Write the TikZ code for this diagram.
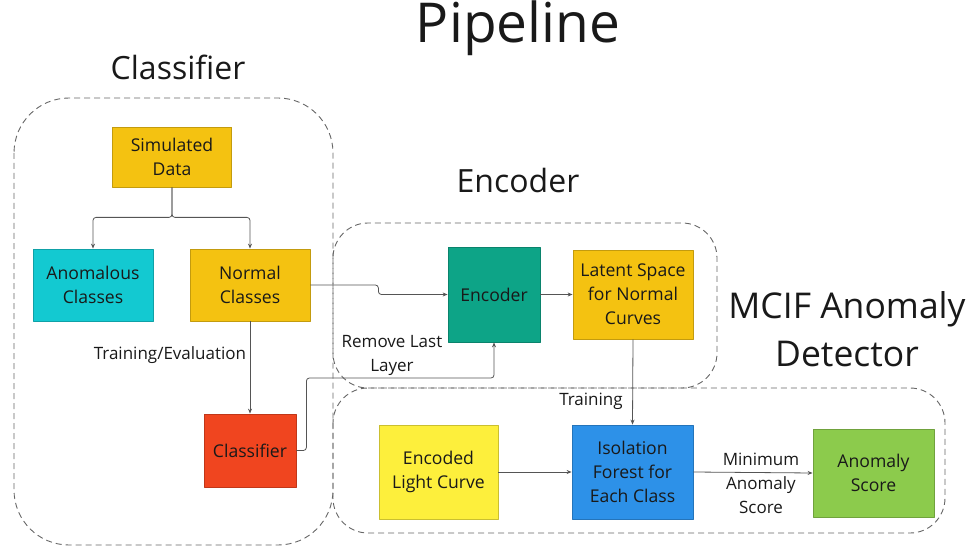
\documentclass[tikz,border=0pt]{standalone}
\usepackage{fontspec}
\setmainfont{Open Sans}
\usetikzlibrary{arrows.meta}
\definecolor{gold}{HTML}{F4C211}
\definecolor{aqua}{HTML}{13C9D1}
\definecolor{tomato}{HTML}{F0451F}
\definecolor{jade}{HTML}{0DA487}
\definecolor{lemon}{HTML}{FDEF3C}
\definecolor{sky}{HTML}{2D91E8}
\definecolor{lime}{HTML}{8CCB4C}
\definecolor{wire}{HTML}{555555}
\begin{document}
\begin{tikzpicture}[x=1pt,y=-1pt,>={Stealth[length=5pt,width=4pt]},line join=round]
	\tikzset{blk/.style={draw=#1!80!black, fill=#1, line width=0.8pt, inner sep=0pt, align=center, text=black!90, font=\fontsize{17.6}{24}\selectfont},
		conn/.style={->, draw=wire, line width=0.8pt, rounded corners=3pt},
		zone/.style={draw=black!60, line width=0.9pt, dash pattern=on 6pt off 4pt},
		lbl/.style={align=center, text=black!90, font=\fontsize{17}{24}\selectfont},
		ttl/.style={align=center, text=black!90, font=\fontsize{#1}{48}\selectfont}}
	\useasboundingbox (0,0) rectangle (969,548);
	% dashed zones
	\draw[zone, rounded corners=55pt] (14,98) rectangle (333,545);
	\draw[zone, rounded corners=35pt] (333,223) rectangle (717,388);
	\draw[zone, rounded corners=35pt] (333,388) rectangle (945,533);
	% titles
	\node[ttl=55] (tpipe) at (518,28) {Pipeline};
	\node[ttl=32] (tclass) at (178,67) {Classifier};
	\node[ttl=32] (tenc) at (518,181) {Encoder};
	\node[ttl=35.5] (tmcif) at (847,329) {MCIF Anomaly\\Detector};
	% boxes
	\node[blk=gold, minimum width=119pt, minimum height=60pt] (sim) at (172,157) {Simulated\\Data};
	\node[blk=aqua, minimum width=120pt, minimum height=72pt] (anom) at (93,285) {Anomalous\\Classes};
	\node[blk=gold, minimum width=120pt, minimum height=72pt] (norm) at (250,285) {Normal\\Classes};
	\node[blk=tomato, minimum width=92pt, minimum height=73pt] (cls) at (250,450.5) {Classifier};
	\node[blk=jade, minimum width=92pt, minimum height=95pt] (enc) at (494,294.5) {Encoder};
	\node[blk=gold, minimum width=120pt, minimum height=89pt] (lat) at (633,294.5) {Latent Space\\for Normal\\Curves};
	\node[blk=lemon, minimum width=119pt, minimum height=94pt] (elc) at (438.5,472) {Encoded\\Light Curve};
	\node[blk=sky, minimum width=121pt, minimum height=94pt] (iso) at (632.5,472) {Isolation\\Forest for\\Each Class};
	\node[blk=lime, minimum width=121pt, minimum height=88pt] (score) at (873.5,473) {Anomaly\\Score};
	% connectors
	\draw[conn] (sim.south) -- ++(0,30) -| (anom.north);
	\draw[conn] (sim.south) -- ++(0,30) -| (norm.north);
	\draw[conn] (norm.east) -- ++(68,0) |- (enc.west);
	\draw[conn] (norm.south) -- (cls.north);
	\draw[conn] (cls.east) -- ++(10,0) -- ++(0,-72.5) -| (enc.south);
	\draw[conn] (enc.east) -- (lat.west);
	\draw[conn] (lat.south) -- (iso.north);
	\draw[conn] (elc.east) -- (iso.west);
	\draw[conn] (iso.east) -- (score.west);
	% labels
	\node[lbl] (ltrain) at (170,355) {Training/Evaluation};
	\node[lbl] (lremove) at (392,355) {Remove Last\\Layer};
	\node[lbl] (ltrn) at (591,401) {Training};
	\node[lbl] (lmin) at (761,483) {Minimum\\Anomaly\\Score};
\end{tikzpicture}
\end{document}
